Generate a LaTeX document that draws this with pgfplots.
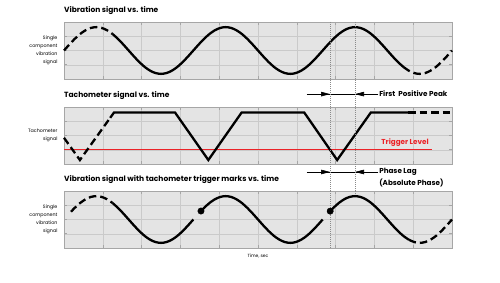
\documentclass[border=0pt]{standalone}
\usepackage{fontspec}
\setmainfont{Poppins}
\usepackage{pgfplots}
\pgfplotsset{compat=1.18}
\usepackage{pgfplotstable}
\usetikzlibrary{arrows.meta}
\definecolor{bgc}{HTML}{E4E4E4}
\definecolor{gridc}{HTML}{CACACA}
\definecolor{framec}{HTML}{A6A6A6}
\definecolor{redline}{RGB}{235,35,40}
\definecolor{dotc}{HTML}{8A8A8A}

% vibration signal (panel 1)
\pgfplotstableread{
x y
0 0
0.1389 0.212
0.2778 0.41
0.4167 0.580
0.5556 0.710
0.6944 0.792
0.8333 0.82
0.9722 0.792
1.1111 0.710
1.25 0.580
1.3889 0.41
1.5278 0.212
1.6667 0
1.8056 -0.212
1.9444 -0.41
2.0833 -0.580
2.2222 -0.710
2.3611 -0.792
2.5 -0.82
2.6389 -0.792
2.7778 -0.710
2.9167 -0.580
3.0556 -0.41
3.1944 -0.212
3.3333 0
3.4722 0.212
3.6111 0.41
3.75 0.580
3.8889 0.710
4.0278 0.792
4.1667 0.82
4.3056 0.792
4.4444 0.710
4.5833 0.580
4.7222 0.41
4.8611 0.212
5.0 0
5.1389 -0.212
5.2778 -0.41
5.4167 -0.580
5.5556 -0.710
5.6944 -0.792
5.8333 -0.82
5.9722 -0.792
6.1111 -0.710
6.25 -0.580
6.3889 -0.41
6.5278 -0.212
6.6667 0
6.8056 0.212
6.9444 0.41
7.0833 0.580
7.2222 0.710
7.3611 0.792
7.5 0.82
7.6389 0.792
7.7778 0.710
7.9167 0.580
8.0556 0.41
8.1944 0.212
8.3333 0
8.4722 -0.212
8.6111 -0.41
8.75 -0.580
8.8889 -0.710
9.0278 -0.792
9.1667 -0.82
9.3056 -0.792
9.4444 -0.710
9.5833 -0.580
9.7222 -0.41
9.8611 -0.212
10.0 0
}\sigA

% vibration signal with trigger points (panel 3)
\pgfplotstableread{
x y
0.18 0.273
0.2778 0.41
0.4167 0.580
0.5556 0.710
0.6944 0.792
0.8333 0.82
0.9722 0.792
1.1111 0.710
1.25 0.580
1.3889 0.41
1.5278 0.212
1.6667 0
1.8056 -0.212
1.9444 -0.41
2.0833 -0.580
2.2222 -0.710
2.3611 -0.792
2.5 -0.82
2.6389 -0.792
2.7778 -0.710
2.9167 -0.580
3.0556 -0.41
3.1944 -0.212
3.3333 0
3.53 0.297
3.6111 0.41
3.75 0.580
3.8889 0.710
4.0278 0.792
4.1667 0.82
4.3056 0.792
4.4444 0.710
4.5833 0.580
4.7222 0.41
4.8611 0.212
5.0 0
5.1389 -0.212
5.2778 -0.41
5.4167 -0.580
5.5556 -0.710
5.6944 -0.792
5.8333 -0.82
5.9722 -0.792
6.1111 -0.710
6.25 -0.580
6.3889 -0.41
6.5278 -0.212
6.6667 0
6.86 0.293
6.9444 0.41
7.0833 0.580
7.2222 0.710
7.3611 0.792
7.5 0.82
7.6389 0.792
7.7778 0.710
7.9167 0.580
8.0556 0.41
8.1944 0.212
8.3333 0
8.4722 -0.212
8.6111 -0.41
8.75 -0.580
8.8889 -0.710
9.0278 -0.792
9.1667 -0.82
9.3056 -0.792
9.4444 -0.710
9.5833 -0.580
9.7222 -0.41
9.8611 -0.212
10.0 0
}\sigC

\pgfplotsset{
  panel/.style={scale only axis, width=388pt, height=57pt,
    xmin=0, xmax=10, ymin=-1, ymax=1,
    xtick={1,...,9}, ytick={-0.5,0,0.5},
    xticklabels={}, yticklabels={},
    grid=major, grid style={gridc, line width=0.5pt},
    axis background/.style={fill=bgc},
    axis line style={framec, line width=0.6pt},
    tick style={framec, line width=0.6pt},
    major tick length=3pt, tick align=inside,
    clip=false, anchor=south west,
    title style={at={(0,1)}, anchor=south west, inner sep=0pt, yshift=1.5pt,
      font=\fontsize{7.5}{8}\selectfont\bfseries}},
}
\tikzset{
  sig/.style={black, line width=2.3pt, smooth, line cap=butt},
  sigd/.style={sig, dash pattern=on 7.5pt off 4pt},
  tach/.style={black, line width=2.3pt, line join=miter},
  lab/.style={anchor=east, align=right, xshift=-3pt, font=\fontsize{4.8}{8}\selectfont},
  ann/.style={font=\fontsize{7.2}{8.5}\selectfont\bfseries, anchor=west, inner sep=0pt},
  arr/.style={line width=0.6pt, -{Triangle[length=9pt,width=4.5pt]}},
  dotl/.style={dotc, line width=0.45pt, dash pattern=on 0.6pt off 1.4pt}
}

\begin{document}
\begin{tikzpicture}
\path[use as bounding box] (0,0) rectangle (500pt,282pt);

% ---------- panel 1 ----------
\begin{axis}[panel, at={(64pt,203pt)}, title={Vibration signal vs. time}]
\addplot[sigd, restrict x to domain=-0.01:1.26] table {\sigA};
\addplot[sig, restrict x to domain=1.24:8.76] table {\sigA};
\addplot[sigd, restrict x to domain=8.74:10.01] table {\sigA};
\node[lab] at (rel axis cs:0,0.5) {Single\\component\\vibration\\signal};
\coordinate (A1) at (axis cs:6.857,1);
\coordinate (B1) at (axis cs:7.5,1);
\draw[line width=0.6pt] (axis cs:6.26,-1.53) -- (axis cs:8.1,-1.53);
\draw[arr] (axis cs:6.26,-1.53) -- (axis cs:6.857,-1.53);
\draw[arr] (axis cs:8.1,-1.53) -- (axis cs:7.5,-1.53);
\node[ann] at (axis cs:8.12,-1.53) {First\ \ Positive Peak};
\end{axis}

% ---------- panel 2 ----------
\begin{axis}[panel, at={(64pt,118pt)}, title={Tachometer signal vs. time}]
\fill[redline] (axis cs:0,-0.525) rectangle (axis cs:9.48,-0.475);
\addplot[tach, dash pattern=on 7.5pt off 4pt] coordinates {(0,-0.08) (0.41,-0.86) (1.19,0.62)};
\addplot[tach] coordinates {(1.19,0.62) (1.29,0.81) (2.86,0.81) (3.72,-0.86) (4.58,0.81) (6.19,0.81) (7.04,-0.86) (7.91,0.81) (8.87,0.81)};
\addplot[tach, dash pattern=on 7.5pt off 4pt] coordinates {(8.87,0.81) (10,0.81)};
\node[lab] at (rel axis cs:0,0.5) {Tachometer\\signal};
\node[font=\fontsize{7.2}{8}\selectfont\bfseries, text=redline, inner sep=0pt] at (axis cs:8.79,-0.26) {Trigger Level};
\draw[line width=0.6pt] (axis cs:6.26,-1.28) -- (axis cs:8.1,-1.28);
\draw[arr] (axis cs:6.26,-1.28) -- (axis cs:6.857,-1.28);
\draw[arr] (axis cs:8.1,-1.28) -- (axis cs:7.5,-1.28);
\node[ann] at (axis cs:8.12,-1.28) {Phase Lag};
\node[ann] at (axis cs:8.12,-1.67) {(Absolute Phase)};
\end{axis}

% ---------- panel 3 ----------
\begin{axis}[panel, at={(64pt,34pt)}, title={Vibration signal with tachometer trigger marks vs. time}]
\draw[dotl] (axis cs:6.857,1) -- (axis cs:6.857,-1);
\draw[dotl] (axis cs:7.5,1) -- (axis cs:7.5,0.82);
\addplot[sigd, restrict x to domain=0.17:1.26] table {\sigC};
\addplot[sig, restrict x to domain=1.24:3.34] table {\sigC};
\addplot[sig, restrict x to domain=3.52:6.67] table {\sigC};
\addplot[sig, restrict x to domain=6.85:8.89] table {\sigC};
\addplot[sigd, restrict x to domain=8.88:10.01] table {\sigC};
\addplot[only marks, mark=*, mark size=3.2pt, black] coordinates {(3.53,0.297) (6.86,0.293)};
\node[lab] at (rel axis cs:0,0.5) {Single\\component\\vibration\\signal};
\node[anchor=north, font=\fontsize{4.5}{5}\selectfont, inner sep=0pt] at (rel axis cs:0.5,-0.1) {Time, sec};
\coordinate (A3) at (axis cs:6.857,1);
\coordinate (B3) at (axis cs:7.5,1);
\end{axis}

\draw[dotl] (A1) -- (A3);
\draw[dotl] (B1) -- (B3);
\end{tikzpicture}
\end{document}
